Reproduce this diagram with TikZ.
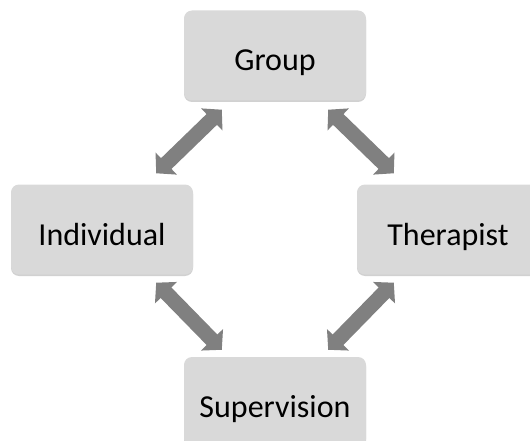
\documentclass[tikz,border=0pt]{standalone}
\usepackage{fontspec}
\setmainfont{Carlito}
\usetikzlibrary{arrows.meta,calc,shadows}

\definecolor{boxgrey}{HTML}{D9D9D9}
\definecolor{linkgrey}{HTML}{808080}

\tikzset{
  box/.style={fill=boxgrey, rounded corners=8pt, minimum width=182pt, minimum height=90pt,
    text height=31pt, text depth=0pt, font=\fontsize{32}{38}\selectfont,
    drop shadow={shadow xshift=0pt, shadow yshift=-1.5pt, opacity=0.3, fill=black!60}},
  link/.style={draw=linkgrey, line width=15pt,
    {Triangle[length=14pt,width=30pt]}-{Triangle[length=14pt,width=30pt]}},
}

\begin{document}
\begin{tikzpicture}[x=1pt,y=-1pt]
  %%%%% boxes %%%%%
  \useasboundingbox (0,0) rectangle (530,441);

  \node[box] (grp) at (275,55.5) {Group};
  \node[box] (ind) at (102,229.5) {Individual};
  \node[box] (thr) at (448,229.5) {Therapist};
  \node[box] (sup) at (275,402) {Supervision};

  %%%%% links %%%%%
  \draw[link] ($(grp.south west)+(38,9)$) -- ($(ind.north east)+(-37,-11)$);
  \draw[link] ($(grp.south east)+(-38,9)$) -- ($(thr.north west)+(37,-11)$);
  \draw[link] ($(ind.south east)+(-37,8)$) -- ($(sup.north west)+(38,-7)$);
  \draw[link] ($(thr.south west)+(37,8)$) -- ($(sup.north east)+(-38,-7)$);
\end{tikzpicture}
\end{document}
